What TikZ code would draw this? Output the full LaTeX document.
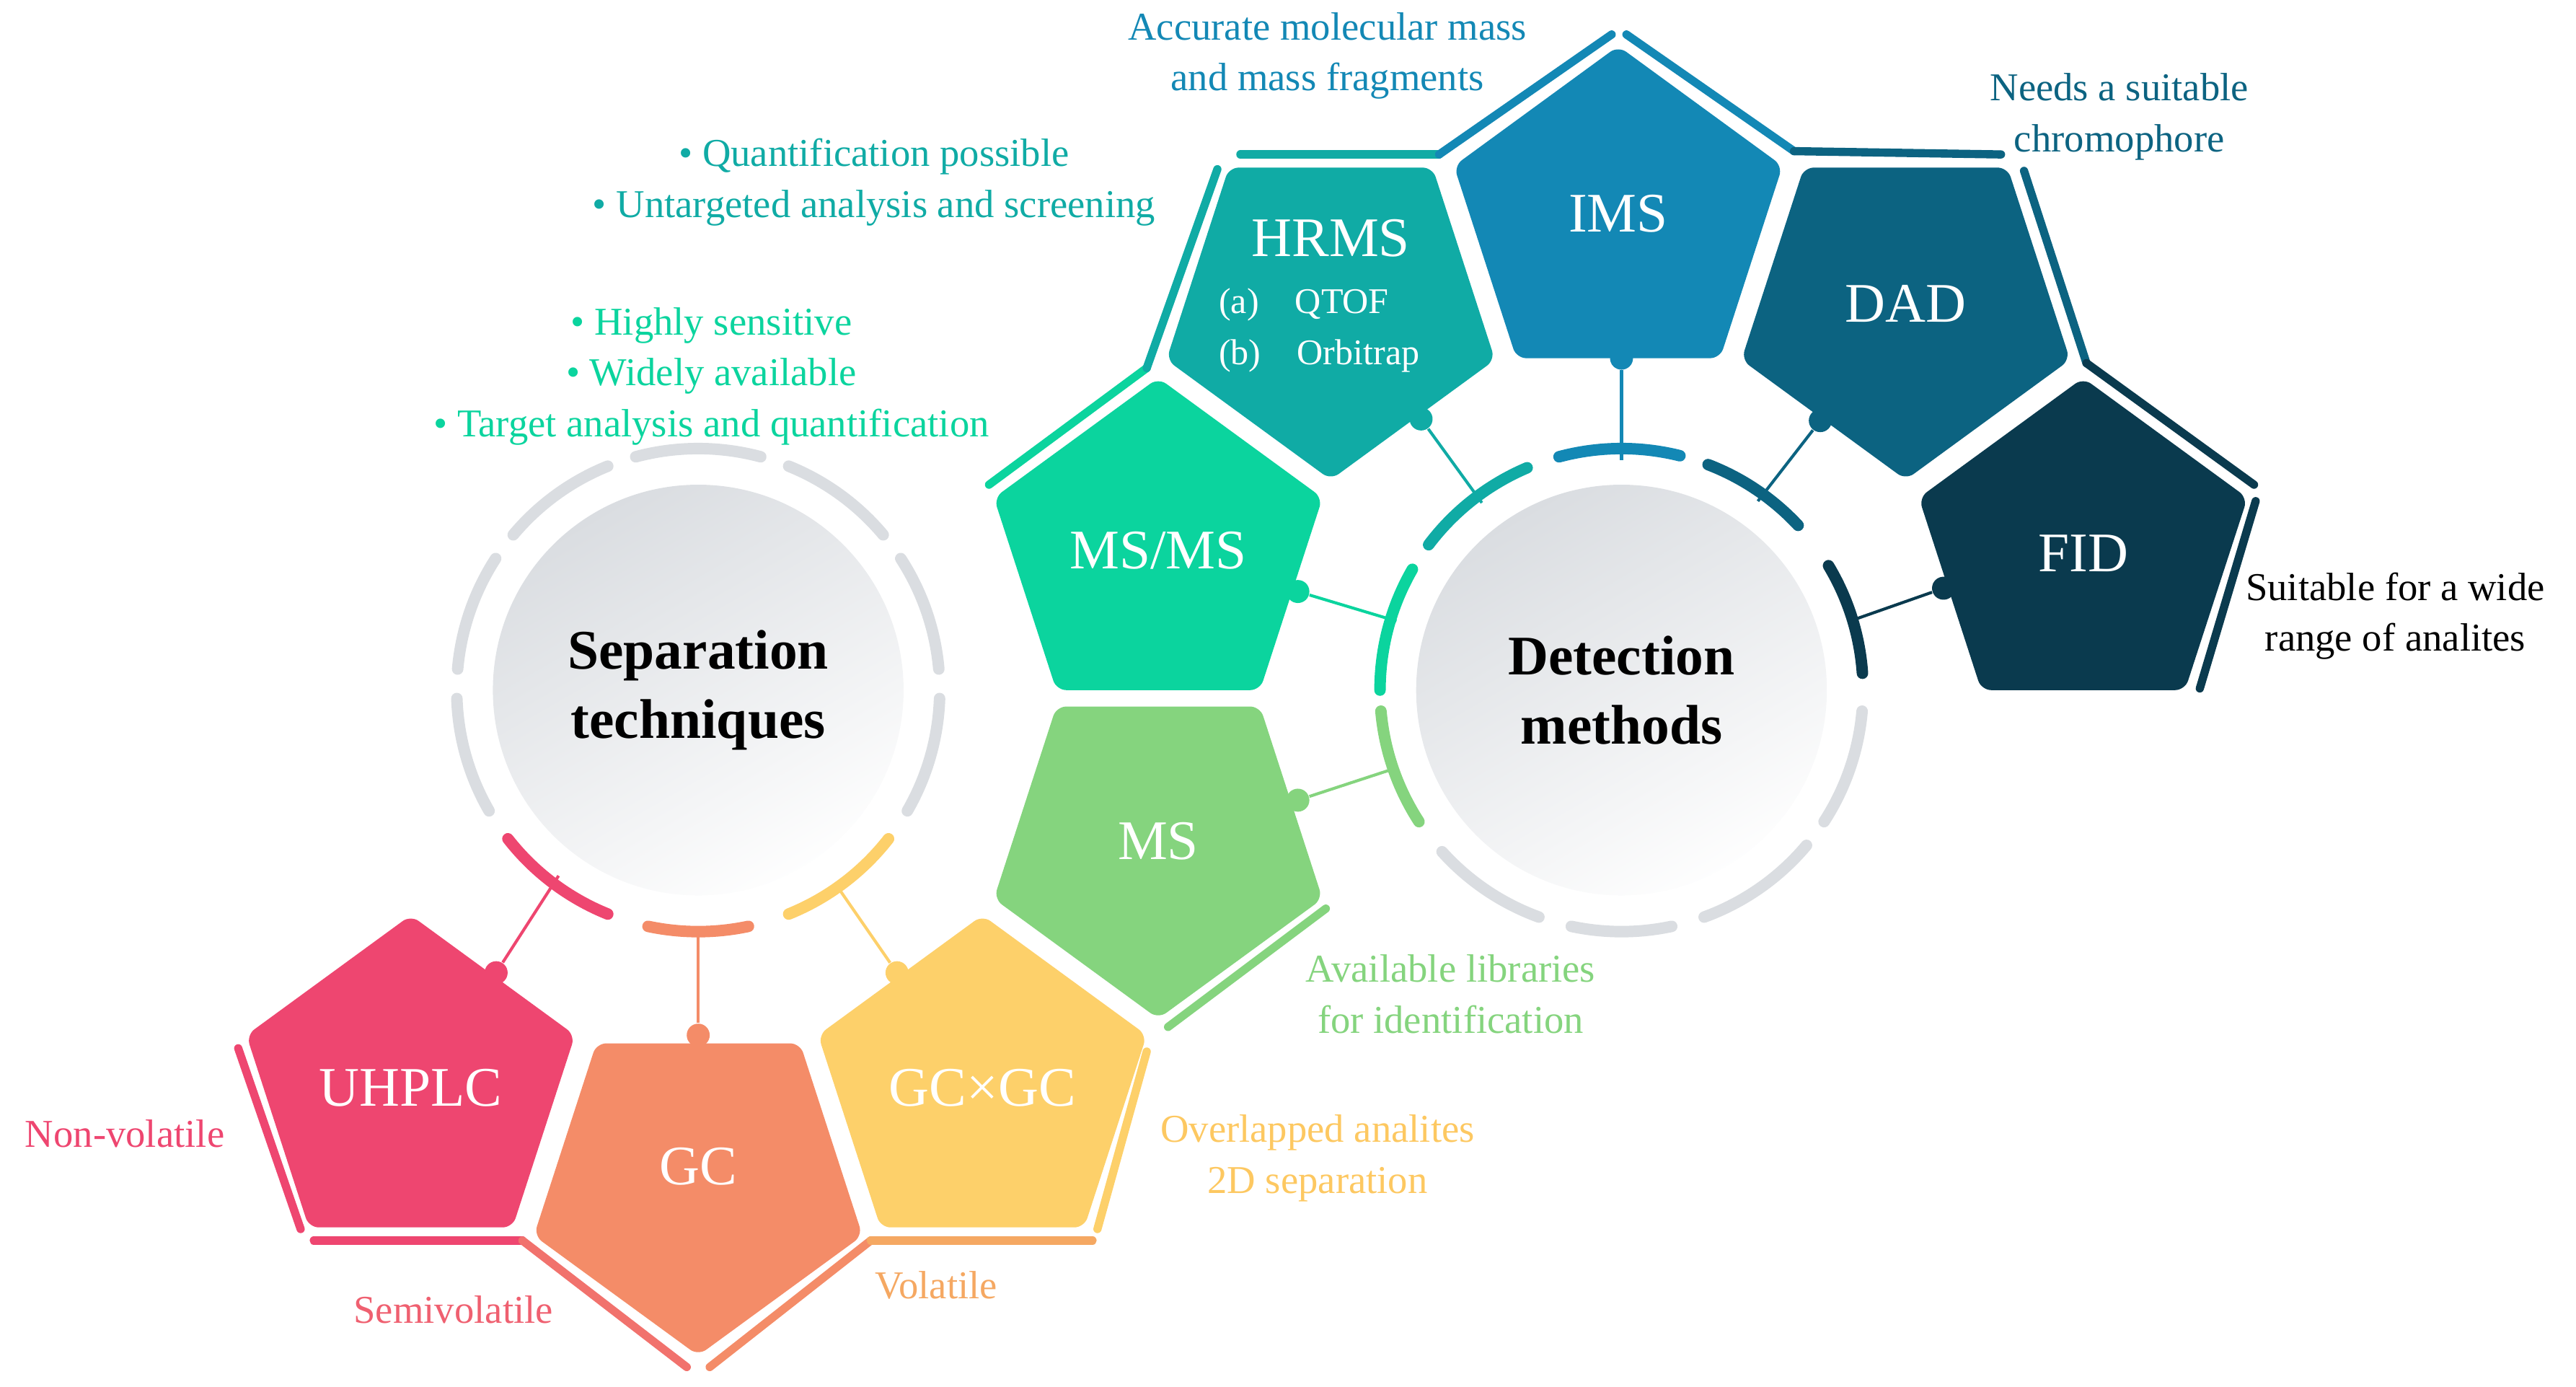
\documentclass[tikz,border=0pt]{standalone}
\usepackage{fontspec}
\setmainfont{Liberation Serif}
\usetikzlibrary{calc}
\definecolor{cUH}{HTML}{EE4670}
\definecolor{cGC}{HTML}{F48C68}
\definecolor{cGG}{HTML}{FDD06A}
\definecolor{cMS}{HTML}{85D47E}
\definecolor{cMM}{HTML}{0BD49E}
\definecolor{cHR}{HTML}{10ABA5}
\definecolor{cIM}{HTML}{1388B5}
\definecolor{cDA}{HTML}{0C6381}
\definecolor{cFI}{HTML}{0A3A4E}
\definecolor{ring}{HTML}{DADDE1}
\definecolor{tSemi}{HTML}{EF6070}
\definecolor{tVol}{HTML}{F5A862}
\definecolor{tOv}{HTML}{FDC861}
\newcommand\pentU[2]{\fill[#2,rounded corners=3pt] ($(#1)+(0,-105)$) -- ($(#1)+(-100,-32)$) -- ($(#1)+(-62,85)$) -- ($(#1)+(62,85)$) -- ($(#1)+(100,-32)$) -- cycle;}
\newcommand\pentD[2]{\fill[#2,rounded corners=3pt] ($(#1)+(0,105)$) -- ($(#1)+(-100,32)$) -- ($(#1)+(-62,-85)$) -- ($(#1)+(62,-85)$) -- ($(#1)+(100,32)$) -- cycle;}
\newcommand\rarc[4]{\draw[#1,ringarc] ($(#2)+(-#3:147)$) arc[start angle=-#3,end angle=-#4,radius=147];}
\begin{document}
\begin{tikzpicture}[x=0.5pt,y=-0.5pt,
  ringarc/.style={line width=3.5pt,line cap=round},
  strip/.style={line width=2.5pt,line cap=round,line join=round},
  lab/.style={font=\fontsize{17}{20}\selectfont,text=white},
  note/.style={font=\fontsize{12}{15.5}\selectfont,align=center},
  conn/.style={line width=0.9pt},
  dot/.style={circle,fill,inner sep=0pt,minimum size=7pt}]
\useasboundingbox (0,0) rectangle (1568,844);
% centres
\coordinate (cUHc) at (250,662);
\coordinate (cGCc) at (425,720);
\coordinate (cGGc) at (598,662);
\coordinate (cMSc) at (705,515);
\coordinate (cMMc) at (705,335);
\coordinate (cHRc) at (810,187);
\coordinate (cIMc) at (985,133);
\coordinate (cDAc) at (1160,187);
\coordinate (cFIc) at (1268,335);
% circles
\node[circle,minimum size=125pt,inner sep=0pt,top color=ring,bottom color=white!96!ring,shading angle=30,
  font=\fontsize{17}{21}\selectfont\bfseries,align=center] (sep) at (425,420) {Separation\\techniques};
\node[circle,minimum size=125pt,inner sep=0pt,top color=ring,bottom color=white!96!ring,shading angle=30,
  font=\fontsize{17}{21}\selectfont\bfseries,align=center] (det) at (987,420) {Detection\\methods};
% separation ring
\rarc{cUH}{sep}{218}{248}
\rarc{cGC}{sep}{258}{282}
\rarc{cGG}{sep}{292}{322}
\foreach \a/\b in {330/358,5/33,40/68,75/105,112/140,147/175,182/210}{\rarc{ring}{sep}{\a}{\b}}
% detection ring
\rarc{cFI}{det}{4}{31}
\rarc{cDA}{det}{43}{69}
\rarc{cIM}{det}{76}{105}
\rarc{cHR}{det}{113}{143}
\rarc{cMM}{det}{150}{180}
\rarc{cMS}{det}{185}{213}
\foreach \a/\b in {222/250,258/282,290/320,327/355}{\rarc{ring}{det}{\a}{\b}}
% pentagons
\pentU{cUHc}{cUH}
\pentD{cGCc}{cGC}
\pentU{cGGc}{cGG}
\pentD{cMSc}{cMS}
\pentU{cMMc}{cMM}
\pentD{cHRc}{cHR}
\pentU{cIMc}{cIM}
\pentD{cDAc}{cDA}
\pentU{cFIc}{cFI}
% labels
\node[lab] (uh) at (250,662) {UHPLC};
\node[lab] (gc) at (425,710) {GC};
\node[lab] (gg) at (598,662) {GC×GC};
\node[lab] (ms) at (705,512) {MS};
\node[lab] (mm) at (705,335) {MS/MS};
\node[lab] (hr) at (810,145) {HRMS};
\node[font=\fontsize{11}{15.5}\selectfont,text=white,align=left] (hrs) at (803,201) {(a)\quad QTOF\\(b)\quad Orbitrap};
\node[lab] (im) at (985,130) {IMS};
\node[lab] (da) at (1160,185) {DAD};
\node[lab] (fi) at (1268,337) {FID};
% strips
\draw[strip,cUH] (145,638) -- (183,748);
\draw[strip,cUH] (191,755) -- (318,755);
\draw[strip,tSemi!60!cGC] (318,755) -- (418,832);
\draw[strip,cGC] (432,832) -- (530,755);
\draw[strip,tVol] (530,755) -- (665,755);
\draw[strip,cGG] (698,640) -- (668,748);
\draw[strip,cMS] (807,553) -- (711,625);
\draw[strip,cMM] (602,295) -- (698,224);
\draw[strip,cHR] (698,224) -- (741,103);
\draw[strip,cHR] (755,94) -- (876,94);
\draw[strip,cIM] (876,94) -- (981,21);
\draw[strip,cIM] (990,21) -- (1092,92);
\draw[strip,cDA] (1092,92) -- (1218,94);
\draw[strip,cDA] (1232,104) -- (1270,221);
\draw[strip,cFI] (1270,221) -- (1372,295);
\draw[strip,cFI] (1373,305) -- (1339,419);
% dots and connectors
\node[dot,cUH] (duh) at (302,592) {};
\node[dot,cGC] (dgc) at (425,630) {};
\node[dot,cGG] (dgg) at (546,592) {};
\node[dot,cMS] (dms) at (790,487) {};
\node[dot,cMM] (dmm) at (790,360) {};
\node[dot,cHR] (dhr) at (865,255) {};
\node[dot,cIM] (dim) at (987,218) {};
\node[dot,cDA] (dda) at (1108,256) {};
\node[dot,cFI] (dfi) at (1183,358) {};
\coordinate (auh) at (340,533);
\coordinate (agc) at (425,565);
\coordinate (agg) at (510,540);
\coordinate (ams) at (848,468);
\coordinate (amm) at (850,378);
\coordinate (ahr) at (902,306);
\coordinate (aim) at (987,280);
\coordinate (ada) at (1070,305);
\coordinate (afi) at (1126,378);
\draw[conn,cUH] (duh) -- (auh);
\draw[conn,cGC] (dgc) -- (agc);
\draw[conn,cGG] (dgg) -- (agg);
\draw[conn,cMS] (dms) -- (ams);
\draw[conn,cMM] (dmm) -- (amm);
\draw[conn,cHR] (dhr) -- (ahr);
\draw[conn,cIM] (dim) -- (aim);
\draw[conn,cDA] (dda) -- (ada);
\draw[conn,cFI] (dfi) -- (afi);
% notes
\node[note,text=cUH] (n1) at (76,690) {Non-volatile};
\node[note,text=tSemi] (n2) at (276,797) {Semivolatile};
\node[note,text=tVol] (n3) at (570,782) {Volatile};
\node[note,text=tOv] (n4) at (802,705) {Overlapped analites\\2D separation};
\node[note,text=cMS] (n5) at (883,605) {Available libraries\\for identification};
\node[note,text=cMM] (n6) at (433,229) {• Highly sensitive\\• Widely available\\• Target analysis and quantification};
\node[note,text=cHR] (n7) at (532,111) {• Quantification possible\\• Untargeted analysis and screening};
\node[note,text=cIM] (n8) at (808,34) {Accurate molecular mass\\and mass fragments};
\node[note,text=cDA] (n9) at (1290,71) {Needs a suitable\\chromophore};
\node[note,text=black] (n10) at (1458,375) {Suitable for a wide\\range of analites};
\end{tikzpicture}
\end{document}
